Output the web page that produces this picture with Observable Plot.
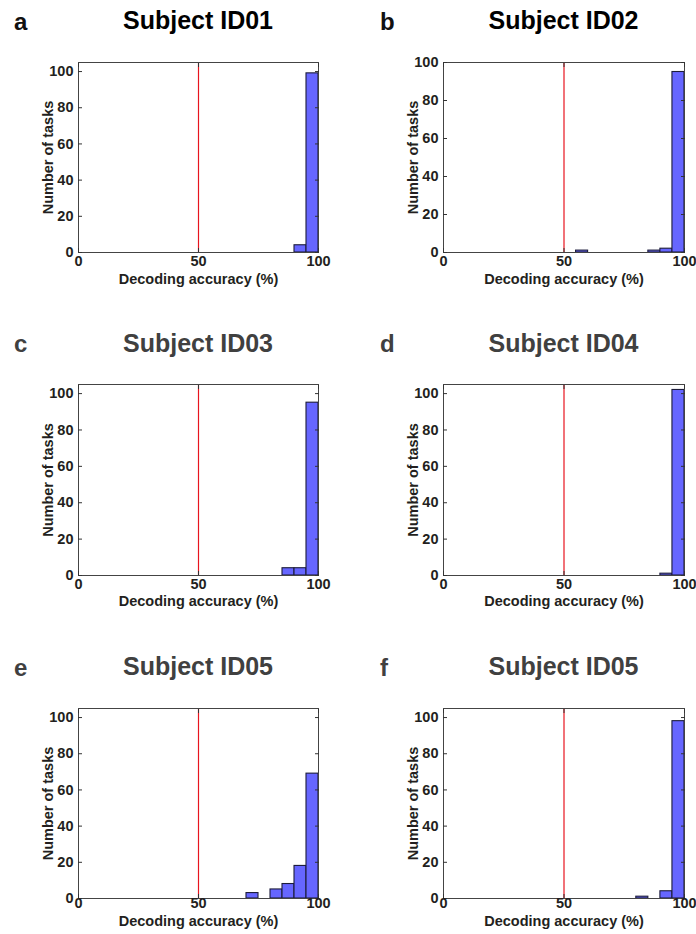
<!DOCTYPE html>
<html><head><meta charset="utf-8">
<script src="https://cdn.jsdelivr.net/npm/d3@7"></script>
<script src="https://cdn.jsdelivr.net/npm/@observablehq/plot@0.6"></script>
<style>
body{margin:0;background:#fff;}
#root{position:relative;width:696px;height:934px;font-family:"Liberation Sans",Arial,sans-serif;overflow:hidden;}
.letter{position:absolute;font-size:24px;font-weight:bold;line-height:1;color:#111;}
.title{position:absolute;font-size:25px;font-weight:bold;line-height:1;text-align:center;white-space:nowrap;}
.panel{position:absolute;}
</style></head><body><div id="root"></div>
<script>
// Data
const binStarts = [0,5,10,15,20,25,30,35,40,45,50,55,60,65,70,75,80,85,90,95];
const binWidth = 5;
const panelLetters = ["a","b","c","d","e","f"];
const panelTitles = ["Subject ID01","Subject ID02","Subject ID03","Subject ID04","Subject ID05","Subject ID05"];
const countsID01 = [0,0,0,0,0,0,0,0,0,0,0,0,0,0,0,0,0,0,4,99];
const countsID02 = [0,0,0,0,0,0,0,0,0,0,0,1,0,0,0,0,0,1,2,95];
const countsID03 = [0,0,0,0,0,0,0,0,0,0,0,0,0,0,0,0,0,4,4,95];
const countsID04 = [0,0,0,0,0,0,0,0,0,0,0,0,0,0,0,0,0,0,1,102];
const countsID05e = [0,0,0,0,0,0,0,0,0,0,0,0,0,0,3,0,5,8,18,69];
const countsID05f = [0,0,0,0,0,0,0,0,0,0,0,0,0,0,0,0,1,0,4,98];
const allCounts = [countsID01,countsID02,countsID03,countsID04,countsID05e,countsID05f];
const yMaxes = [105,100,105,105,105,105];
const xTicks = [0,50,100];
const yTicks = [0,20,40,60,80,100];
const chanceLevel = [50];
const titleColors = ["#000","#000","#404040","#404040","#404040","#404040"];

// Layout
const frameTops = [62,384,708];
const frameHs = [190,191,190];
const titleBase = [29,352,675];
const letterBase = [30,352,676];
const xLabelOffsets = [31,30,27];
const xTickPads = [7,7,3];
const plotLefts = [78,443];
const plotRights = [318,684];
const colLefts = [0,348];
const letterX = [14,380];
const mTop = 12, mBottom = 36;

const root = document.getElementById("root");
const font = "'Liberation Sans', Arial, sans-serif";

allCounts.forEach((counts, i) => {
  const row = Math.floor(i/2), col = i%2;
  const data = binStarts.map((s, k) => ({x1: s, x2: s + binWidth, count: counts[k]}));
  const plot = Plot.plot({
    width: 348,
    height: mTop + frameHs[row] + mBottom,
    marginTop: mTop,
    marginBottom: mBottom,
    marginLeft: plotLefts[col] - colLefts[col],
    marginRight: colLefts[col] + 348 - plotRights[col],
    style: {fontFamily: font, fontSize: "14.5px", fontWeight: "bold", color: "#231f20", background: "white"},
    x: {domain: [0,100]},
    y: {domain: [0, yMaxes[i]]},
    marks: [
      Plot.rectY(data, {x1: "x1", x2: "x2", y: "count", fill: "#6666ff", stroke: "#1c1c3a", strokeWidth: 1.1}),
      Plot.ruleX(chanceLevel, {stroke: "#e8141e", strokeWidth: 1.2}),
      Plot.frame({stroke: "#444", strokeWidth: 1}),
      Plot.axisY(yTicks, {anchor: "left", tickSize: -4, tickPadding: 9, label: "Number of tasks", labelAnchor: "center", labelOffset: 36, labelArrow: "none", stroke: "#333"}),
      Plot.axisY(yTicks, {anchor: "right", tickSize: -4, tickFormat: () => "", label: null, stroke: "#333"}),
      Plot.axisX(xTicks, {anchor: "bottom", tickSize: -4, tickPadding: xTickPads[row], label: "Decoding accuracy (%)", labelAnchor: "center", labelOffset: xLabelOffsets[row], labelArrow: "none", stroke: "#333"}),
      Plot.axisX(xTicks, {anchor: "top", tickSize: -4, tickFormat: () => "", label: null, stroke: "#333"})
    ]
  });
  const div = document.createElement("div");
  div.className = "panel";
  div.style.left = colLefts[col] + "px";
  div.style.top = (frameTops[row] - mTop) + "px";
  div.appendChild(plot);
  root.appendChild(div);

  const center = (plotLefts[col] + plotRights[col]) / 2;
  const t = document.createElement("div");
  t.className = "title";
  t.textContent = panelTitles[i];
  t.style.color = titleColors[i];
  t.style.left = (center - 150) + "px";
  t.style.width = "300px";
  t.style.top = (titleBase[row] - 21) + "px";
  root.appendChild(t);

  const l = document.createElement("div");
  l.className = "letter";
  l.textContent = panelLetters[i];
  l.style.color = titleColors[i] === "#000" ? "#111" : "#404040";
  l.style.left = letterX[col] + "px";
  l.style.top = (letterBase[row] - 20) + "px";
  root.appendChild(l);
});
</script>
</body></html>
